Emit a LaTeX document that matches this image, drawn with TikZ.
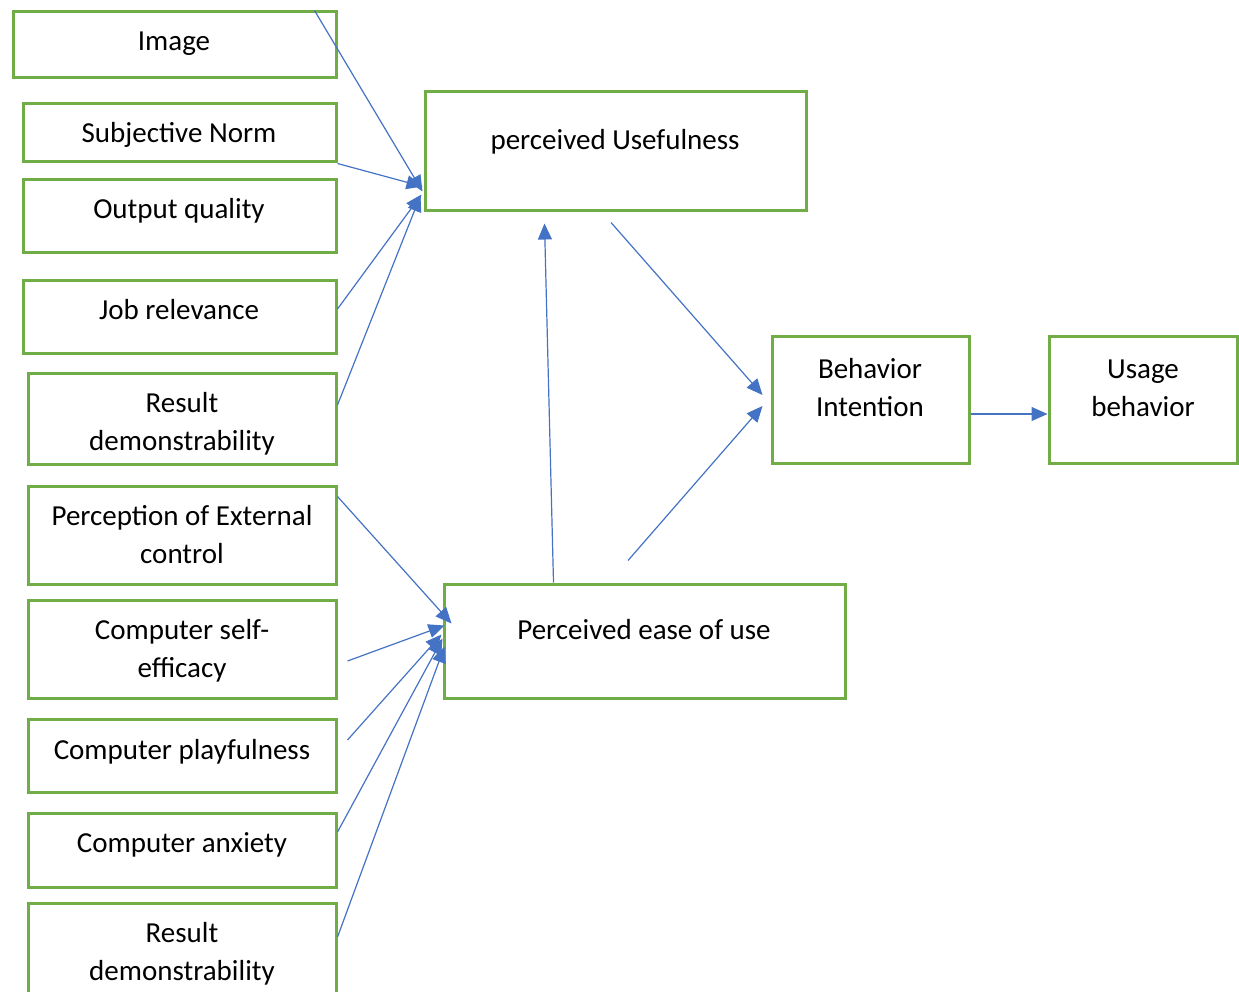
\documentclass[tikz,border=0pt]{standalone}
\usepackage{fontspec}
\setmainfont{Carlito}
\usetikzlibrary{arrows.meta,calc}
\definecolor{boxgreen}{HTML}{70AD47}
\definecolor{arrowblue}{HTML}{4472C4}
\begin{document}
\begin{tikzpicture}[x=1pt,y=-1pt,
  box/.style={draw=boxgreen, line width=3pt, rectangle, inner sep=0pt},
  lbl/.style={anchor=base, align=center, font=\fontsize{29}{38}\selectfont, inner sep=0pt},
  link/.style={draw=arrowblue, line width=1.2pt, -{Triangle[length=16pt,width=14pt]}}]
\useasboundingbox (0,0) rectangle (1239,992);

% left-hand determinant boxes
\node[box, minimum width=323pt, minimum height=66pt] (img) at (174.5,45) {};
\node[box, minimum width=313pt, minimum height=58pt] (sn) at (179.5,133) {};
\node[box, minimum width=313pt, minimum height=73pt] (oq) at (179.5,216.5) {};
\node[box, minimum width=313pt, minimum height=72pt] (jr) at (179.5,317) {};
\node[box, minimum width=308pt, minimum height=91pt] (rd1) at (182,418.5) {};
\node[box, minimum width=308pt, minimum height=98pt] (pec) at (182,535) {};
\node[box, minimum width=308pt, minimum height=98pt] (cse) at (182,649) {};
\node[box, minimum width=308pt, minimum height=73pt] (cp) at (182,755.5) {};
\node[box, minimum width=308pt, minimum height=74pt] (ca) at (182,850) {};
\node[box, minimum width=308pt, minimum height=107pt] (rd2) at (182,956.5) {};

% core model boxes
\node[box, minimum width=381pt, minimum height=119pt] (pu) at (615.5,151.5) {};
\node[box, minimum width=401pt, minimum height=114pt] (peou) at (644.5,641) {};
\node[box, minimum width=197pt, minimum height=127pt] (bi) at (870.5,399.5) {};
\node[box, minimum width=188pt, minimum height=127pt] (ub) at (1143,399.5) {};

% labels (two-line labels are placed by their last baseline)
\node[lbl] (t-img) at (174,51) {Image};
\node[lbl] (t-sn) at (179,143) {Subjective Norm};
\node[lbl] (t-oq) at (179,219) {Output quality};
\node[lbl] (t-jr) at (179,319) {Job relevance};
\node[lbl] (t-rd1) at (182,450) {Result\\demonstrability};
\node[lbl] (t-pec) at (182,563) {Perception of External\\control};
\node[lbl] (t-cse) at (182,677) {Computer self-\\efficacy};
\node[lbl] (t-cp) at (182,759) {Computer playfulness};
\node[lbl] (t-ca) at (182,852) {Computer anxiety};
\node[lbl] (t-rd2) at (182,980) {Result\\demonstrability};
\node[lbl] (t-pu) at (615,150) {perceived Usefulness};
\node[lbl] (t-peou) at (644,639) {Perceived ease of use};
\node[lbl] (t-bi) at (870,416) {Behavior\\Intention};
\node[lbl] (t-ub) at (1143,416) {Usage\\behavior};

% determinants of perceived usefulness
\draw[link] ($(img.north east)+(-23,0)$) -- ($(pu.south west)+(-1,-21)$);
\draw[link] (sn.south east) -- ($(pu.south west)+(-1,-26)$);
\draw[link] ($(jr.east)+(0,-8)$) -- ($(pu.south west)+(-2,-18)$);
\draw[link] ($(rd1.east)+(0,-13.5)$) -- ($(pu.south west)+(-3,-17)$);

% determinants of perceived ease of use
\draw[link] ($(pec.north east)+(0,12)$) -- ($(peou.north west)+(9,41)$);
\draw[link] ($(cse.east)+(10,12)$) -- ($(peou.north west)+(2,43)$);
\draw[link] ($(cp.east)+(10,-15.5)$) -- ($(peou.north west)+(-1,52)$);
\draw[link] ($(ca.east)+(0,-18)$) -- ($(peou.north west)+(0,56)$);
\draw[link] ($(rd2.east)+(0,-19.5)$) -- ($(peou.north west)+(2,64)$);

% core relations
\draw[link] ($(peou.north west)+(111,0)$) -- ($(pu.south west)+(121,11)$);
\draw[link] ($(pu.south)+(-4.5,10)$) -- ($(bi.west)+(-8,-4.5)$);
\draw[link] ($(peou.north)+(-16.5,-22)$) -- ($(bi.west)+(-8,6.5)$);
\draw[link] ($(bi.east)+(0,14.5)$) -- (ub.west |- {$(bi.east)+(0,14.5)$});
\end{tikzpicture}
\end{document}
